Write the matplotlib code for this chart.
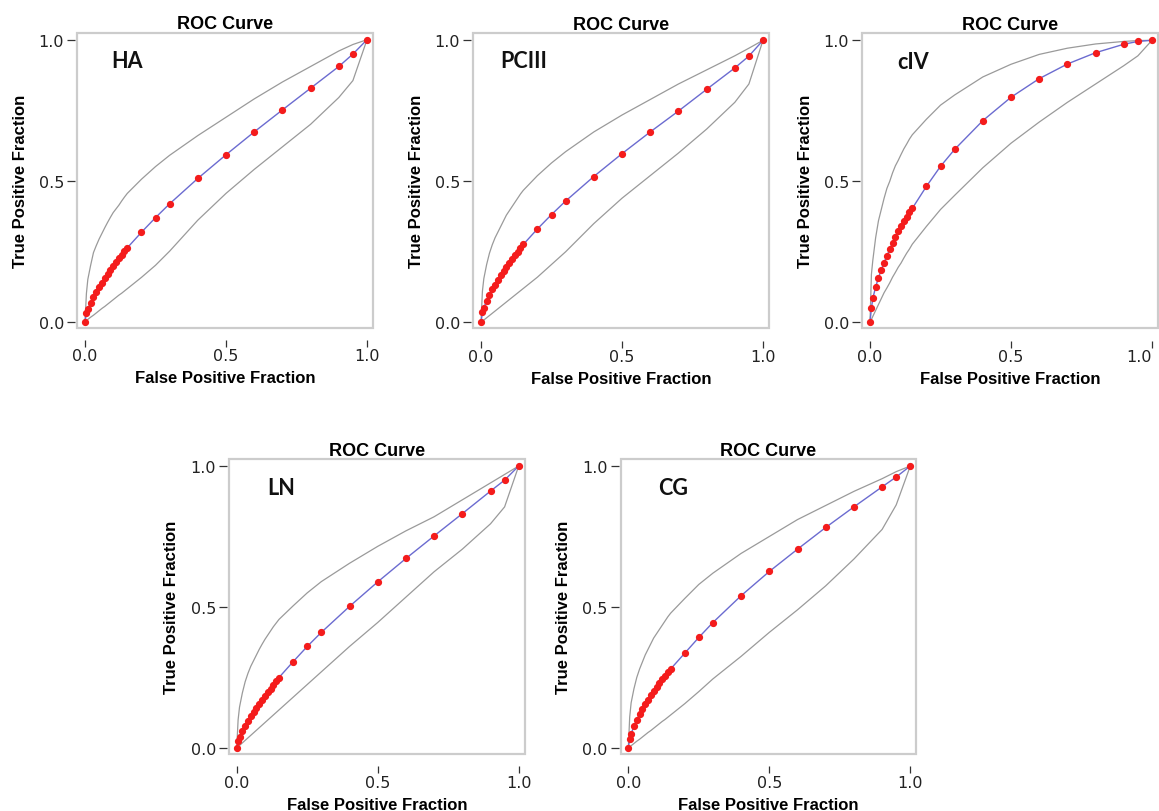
import matplotlib.pyplot as plt

fpr = [0, 0.005, 0.01, 0.02, 0.03, 0.04, 0.05, 0.06, 0.07, 0.08, 0.09, 0.10, 0.11, 0.12, 0.13, 0.14, 0.15,
       0.2, 0.25, 0.3, 0.4, 0.5, 0.6, 0.7, 0.8, 0.9, 0.95, 1.0]

names = ["HA", "PCIII", "cIV", "LN", "CG"]

ha_tpr = [0, .030, .045, .068, .088, .106, .123, .139, .154, .169, .184, .198, .212, .225, .238, .250, .262,
          .317, .369, .418, .508, .592, .673, .751, .828, .905, .949, 1.0]
ha_upper = [0, .10, .15, .20, .245, .27, .293, .313, .333, .352, .37, .387, .40, .413, .428, .442, .455,
            .505, .55, .59, .66, .725, .79, .85, .905, .96, .983, 1.0]
ha_lower = [0, .004, .008, .016, .023, .031, .039, .047, .054, .062, .07, .078, .086, .094, .101, .109, .117,
            .157, .20, .25, .36, .455, .54, .62, .70, .795, .855, 1.0]

pc_tpr = [0, .035, .052, .077, .098, .117, .134, .150, .166, .181, .196, .210, .224, .238, .251, .264, .276,
          .331, .382, .430, .517, .598, .675, .749, .826, .902, .944, 1.0]
pc_upper = [0, .11, .155, .205, .245, .275, .30, .32, .34, .36, .38, .395, .41, .425, .44, .455, .468,
            .52, .565, .605, .675, .735, .79, .845, .895, .945, .972, 1.0]
pc_lower = [0, .004, .008, .016, .024, .032, .04, .048, .056, .064, .072, .08, .088, .096, .104, .112, .12,
            .16, .205, .25, .35, .44, .52, .60, .685, .78, .845, 1.0]

civ_tpr = [0, .05, .085, .125, .158, .186, .212, .236, .259, .281, .302, .322, .341, .359, .375, .390, .404,
           .482, .553, .613, .715, .798, .864, .916, .956, .986, .996, 1.0]
civ_upper = [0, .17, .22, .30, .36, .40, .44, .475, .50, .53, .555, .574, .595, .615, .632, .65, .665,
             .72, .77, .806, .87, .915, .95, .972, .987, .996, .999, 1.0]
civ_lower = [0, .01, .021, .042, .063, .084, .105, .122, .14, .16, .177, .195, .21, .228, .245, .26, .277,
             .34, .40, .45, .548, .635, .71, .78, .845, .91, .945, 1.0]

ln_tpr = [0, .024, .038, .060, .079, .096, .112, .127, .142, .156, .170, .184, .197, .210, .224, .237, .250,
          .306, .360, .410, .502, .589, .672, .752, .831, .911, .950, 1.0]
ln_upper = [0, .10, .145, .195, .235, .265, .29, .31, .33, .35, .368, .385, .40, .415, .43, .443, .456,
            .504, .55, .59, .655, .715, .77, .82, .88, .94, .97, 1.0]
ln_lower = [0, .0045, .009, .018, .027, .036, .045, .054, .063, .072, .081, .09, .099, .108, .117, .126, .135,
            .18, .225, .27, .36, .445, .535, .625, .705, .795, .855, 1.0]

cg_tpr = [0, .033, .050, .078, .100, .120, .138, .155, .171, .187, .202, .216, .230, .243, .256, .268, .280,
          .336, .392, .445, .540, .626, .705, .782, .855, .926, .961, 1.0]
cg_upper = [0, .11, .16, .21, .25, .28, .305, .33, .35, .37, .39, .405, .42, .435, .45, .465, .478,
            .53, .58, .62, .69, .75, .81, .86, .91, .955, .98, 1.0]
cg_lower = [0, .004, .008, .016, .024, .031, .039, .047, .055, .062, .07, .078, .086, .094, .101, .109, .117,
            .157, .20, .245, .325, .41, .49, .575, .67, .775, .862, 1.0]

tpr_all = [ha_tpr, pc_tpr, civ_tpr, ln_tpr, cg_tpr]
upper_all = [ha_upper, pc_upper, civ_upper, ln_upper, cg_upper]
lower_all = [ha_lower, pc_lower, civ_lower, ln_lower, cg_lower]

# pixel position of the (0,0) point of each panel, and where the panel name sits
origins = [(85, 322.7), (481, 323.3), (870, 323.3), (236.7, 749), (628.3, 749)]
name_pos = [(0.092, 0.928), (0.067, 0.928), (0.097, 0.926), (0.109, 0.924), (0.106, 0.924)]

W, H = 1159, 812
scale = 282
xlo, xhi = -0.027, 1.021
ylo, yhi = -0.021, 1.025

fig = plt.figure(figsize=(W / 100, H / 100), dpi=100)

for i in range(5):
    x0, y0 = origins[i]
    left = (x0 + xlo * scale) / W
    bottom = 1 - (y0 - ylo * scale) / H
    ax = fig.add_axes([left, bottom, (xhi - xlo) * scale / W, (yhi - ylo) * scale / H])

    ax.plot(fpr, upper_all[i], color='#9a9a9a', lw=0.9)
    ax.plot(fpr, lower_all[i], color='#9a9a9a', lw=0.9)
    ax.plot(fpr, tpr_all[i], color='#6b6bd0', lw=1.0, marker='o', ms=4.2,
            mfc='#f41c1c', mec='#f41c1c', zorder=3)

    ax.set_xlim(xlo, xhi)
    ax.set_ylim(ylo, yhi)
    ax.set_xticks([0, 0.5, 1.0])
    ax.set_yticks([0, 0.5, 1.0])
    ax.set_xticklabels(["0.0", "0.5", "1.0"])
    ax.set_yticklabels(["0.0", "0.5", "1.0"])

    for s in ax.spines.values():
        s.set_visible(False)
    ax.spines['bottom'].set_position(('outward', 9))
    ax.spines['left'].set_position(('outward', 1.5))
    ax.patch.set_edgecolor('#cccccc')
    ax.patch.set_linewidth(1.6)

    ax.tick_params(axis='x', length=5, width=0.9, pad=1, color='#333333',
                   labelsize=11.5, labelcolor='#222222')
    ax.tick_params(axis='y', length=6, width=0.9, pad=2, color='#333333',
                   labelsize=11.5, labelcolor='#222222')
    if i == 2:
        # right panel sits against the edge of the image
        ax.get_xticklabels()[-1].set_horizontalalignment('right')

    ax.set_title("ROC Curve", fontsize=13, fontweight='bold', family='Liberation Sans', pad=3)
    ax.set_xlabel("False Positive Fraction", fontsize=12, fontweight='bold',
                  family='Liberation Sans', labelpad=5)
    ax.set_ylabel("True Positive Fraction", fontsize=12, fontweight='bold',
                  family='Liberation Sans', labelpad=8)

    ax.text(name_pos[i][0], name_pos[i][1], names[i], fontsize=15.5, fontweight='bold',
            family=['Lato', 'DejaVu Sans'], ha='left', va='center', color='#111111')

fig.savefig("out.png", dpi=100)
